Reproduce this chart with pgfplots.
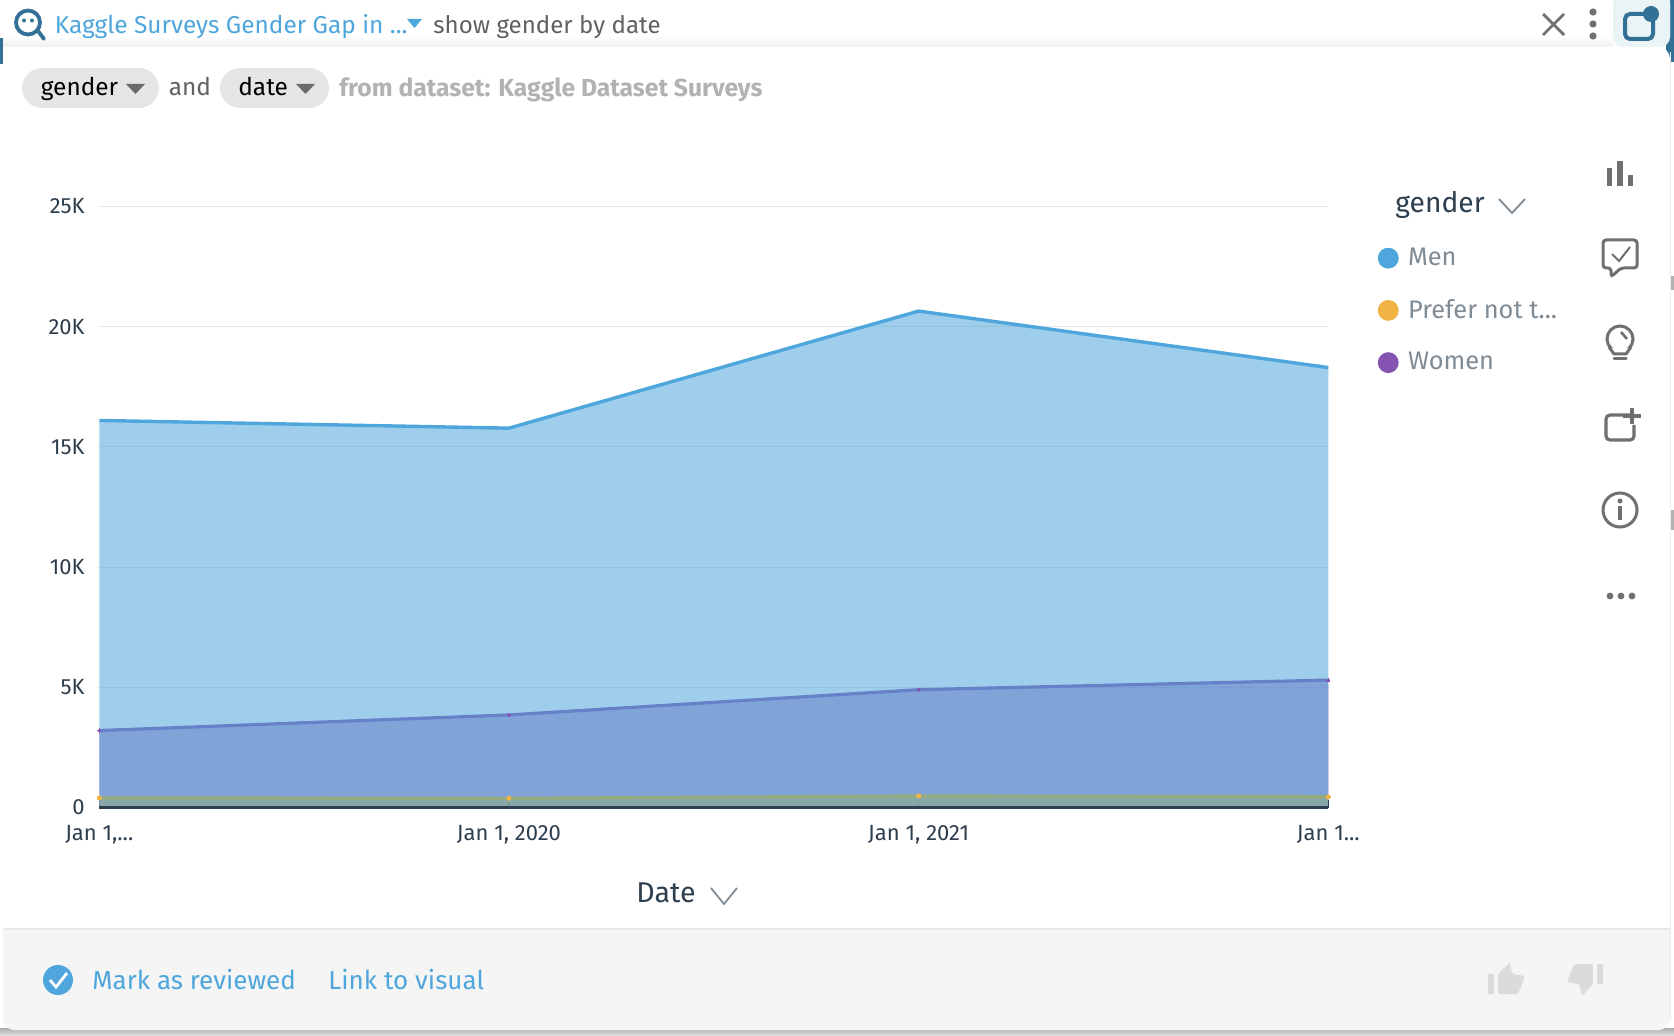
\documentclass[border=0pt]{standalone}
\usepackage{pgfplots}
\pgfplotsset{compat=1.18}
\usepackage{fontspec}
\setmainfont{Fira Sans}
\usetikzlibrary{shadings}
\definecolor{menc}{RGB}{79,166,220}
\definecolor{prefc}{RGB}{240,179,68}
\definecolor{womc}{RGB}{133,84,178}
\definecolor{inktick}{RGB}{45,62,78}
\definecolor{leggray}{RGB}{127,140,150}
\definecolor{icongray}{RGB}{112,112,112}
\definecolor{gridc}{RGB}{227,232,232}
\definecolor{chipc}{RGB}{229,229,229}
\definecolor{deepblue}{RGB}{51,112,150}
\definecolor{footc}{RGB}{245,245,245}
\definecolor{boxblue}{RGB}{234,243,246}
\newcommand{\fs}[1]{\fontsize{#1}{#1}\selectfont}
\newcommand{\tdots}{.\kern0pt.\kern0pt.}
\begin{document}
\begin{tikzpicture}
\useasboundingbox (0,0) rectangle (837pt,-518pt);
\begin{scope}[x=0.5pt,y=-0.5pt]
% page background and panel
\fill[white] (0,0) rectangle (1674,1036);
\fill[top color=black!32,bottom color=black!10] (0,1028) rectangle (1674,1036);
\fill[deepblue] (0,38) rectangle (3,64);
\fill[deepblue] (1666,0) rectangle (1674,62);
\fill[black!30] (1670,276) rectangle (1674,290);
\fill[black!30] (1670,510) rectangle (1674,530);
\fill[white,rounded corners=6pt] (2,-8) rectangle (1670,46);
\fill[top color=white,bottom color=black!6] (3,36) rectangle (1613,47);
\fill[rounded corners=6pt,white] (3,47) rectangle (1670,1030);
\draw[black!8,line width=0.5pt] (1670,52) -- (1670,1020);
\fill[footc,rounded corners=6pt] (3,929) rectangle (1670,1030);
\fill[footc] (3,929) rectangle (1670,960);
\draw[black!9,line width=1pt] (3,929) -- (1670,929);
% header
\fill[rounded corners=5pt,color=boxblue] (1613,-8) rectangle (1670,47);
\draw[deepblue,line width=1.9pt] (28,22.5) circle (12);
\draw[deepblue,line width=1.9pt,line cap=round] (38,31) -- (44,39);
\fill[deepblue] (24,20.5) circle (2) (32,20.5) circle (2);
\node[anchor=base west,inner sep=0,text=menc,font=\fs{12.2}] at (54.4,33.5) {Kaggle Surveys Gender Gap in ...};
\fill[menc] (407,19) -- (422,19) -- (414.5,28) -- cycle;
\node[anchor=base west,inner sep=0,text=black!62,font=\fs{12.05}] at (433,33.5) {show gender by date};
\draw[icongray,line width=1.4pt] (1543,14) -- (1564,35) (1564,14) -- (1543,35);
\fill[icongray] (1593,12) circle (3.6) (1593,24) circle (3.6) (1593,36) circle (3.6);
\draw[deepblue,line width=2pt,rounded corners=2.5pt] (1625,14) rectangle (1653,39);
\fill[boxblue] (1644,0) rectangle (1664,17);
\fill[deepblue] (1651,14) circle (8);
% query chips
\fill[chipc,rounded corners=10pt] (22,68) rectangle (159,108);
\node[anchor=base west,inner sep=0,text=black,font=\fs{12.2}] at (40.5,96) {gender};
\fill[black!58] (126,84) -- (145,84) -- (135.5,94) -- cycle;
\node[anchor=base west,inner sep=0,text=black!62,font=\fs{12.2}] at (168.5,95.5) {and};
\fill[chipc,rounded corners=10pt] (220,68) rectangle (329,108);
\node[anchor=base west,inner sep=0,text=black,font=\fs{12.2}] at (238,96) {date};
\fill[black!58] (296,84) -- (315,84) -- (305.5,94) -- cycle;
\node[anchor=base west,inner sep=0,text=black!30,font=\fs{12.35}\bfseries] at (339,97) {from dataset: Kaggle Dataset Surveys};
% axis title and its chevron
\node[anchor=base,inner sep=0,text=inktick,font=\fs{14.3}] at (666,902) {Date};
\draw[leggray,line width=0.9pt] (711,888) -- (724,904) -- (737,888);
% legend title
\node[anchor=base west,inner sep=0,text=inktick,font=\fs{14.1}] at (1395,213) {gender};
\draw[leggray,line width=0.9pt] (1499,199) -- (1512,213) -- (1525,199);
% right icon column
\fill[icongray] (1607,168) rectangle (1612,186);
\fill[icongray] (1617,161) rectangle (1623,186);
\fill[icongray] (1628,175) rectangle (1633,186);
\draw[icongray,line width=1.5pt,rounded corners=1.5pt] (1603,240) -- (1637,240) -- (1637,268) -- (1621,268) -- (1611,277) -- (1611,268) -- (1603,268) -- cycle;
\draw[icongray,line width=1pt] (1612,254) -- (1619,261) -- (1630,247);
\draw[icongray,line width=1.5pt] (1620,339) circle (13);
\fill[white] (1611,348) rectangle (1629,362);
\draw[icongray,line width=1.5pt] (1609,347) -- (1614,354) -- (1626,354) -- (1631,347);
\draw[icongray,line width=1.5pt,line cap=round] (1614,359) -- (1626,359);
\draw[icongray,line width=1.3pt] (1621,332) -- (1627,339);
\draw[icongray,line width=1.6pt,rounded corners=2pt] (1630,415) -- (1606,415) -- (1606,440) -- (1634,440) -- (1634,425);
\draw[icongray,line width=1.6pt] (1632,408) -- (1632,424) (1623,416) -- (1641,416);
\draw[icongray,line width=1.5pt] (1620,510) circle (17);
\fill[icongray] (1620,501) circle (2.5);
\fill[icongray] (1618,506) rectangle (1622,520);
\fill[icongray] (1610,596) circle (3.4) (1621,596) circle (3.4) (1632,596) circle (3.4);
% footer
\fill[menc] (58,980) circle (15);
\draw[white,line width=1.4pt] (50,980) -- (56,987) -- (67,973);
\node[anchor=base west,inner sep=0,text=menc,font=\fs{13}] at (92,989) {Mark as reviewed};
\node[anchor=base west,inner sep=0,text=menc,font=\fs{13}] at (328,989) {Link to visual};
\fill[black!14] (1488,974) rectangle (1494,994);
\fill[black!14,rounded corners=1pt] (1498,994) -- (1498,974) -- (1510,962) -- (1512,974) -- (1525,976) -- (1518,994) -- cycle;
\fill[black!14] (1597,964) rectangle (1603,984);
\fill[black!14,rounded corners=1pt] (1593,964) -- (1593,984) -- (1582,996) -- (1579,984) -- (1567,982) -- (1574,964) -- cycle;
\end{scope}
\begin{axis}[
  at={(49.65pt,-403.75pt)}, anchor=south west,
  scale only axis, width=614.5pt, height=300.5pt,
  xmin=0, xmax=3, ymin=0, ymax=25000,
  xtick={0,1,2,3},
  xticklabels={{Jan 1,\tdots},{Jan 1, 2020},{Jan 1, 2021},{Jan 1\tdots}},
  ytick={0,5000,10000,15000,20000,25000},
  yticklabels={0,5K,10K,15K,20K,25K},
  scaled y ticks=false,
  ymajorgrids, grid style={gridc,line width=0.6pt},
  axis x line*=bottom,
  axis y line*=left,
  x axis line style={draw=none},
  y axis line style={draw=none},
  xtick align=inside, major tick length=4pt,
  x tick style={inktick!60,line width=0.6pt},
  y tick style={draw=none},
  tick label style={text=inktick,font=\fs{11}},
  xticklabel style={yshift=-5.5pt},
  yticklabel style={xshift=-3.8pt},
  clip=false,
  legend style={at={(1.04,0.932)},anchor=north west,draw=none,fill=none,inner sep=0pt,
    row sep=15.4pt,font=\fs{12.7},text=leggray,
    /tikz/every node/.append style={inner sep=0pt}},
  legend cell align=left,
  after end axis/.code={
    \draw[inktick,line width=1.1pt] (rel axis cs:0,0) -- (rel axis cs:1,0);
    \draw[inktick,line width=0.8pt] (rel axis cs:1,0) -- ++(0,4pt);
  },
]
\addlegendimage{legend image code/.code={\fill[menc] (0.2cm,0) circle (5pt); \path (0.2cm,0) ++(9.7pt,0);}}
\addlegendentry{Men}
\addlegendimage{legend image code/.code={\fill[prefc] (0.2cm,0) circle (5pt); \path (0.2cm,0) ++(9.7pt,0);}}
\addlegendentry{Prefer not t\tdots}
\addlegendimage{legend image code/.code={\fill[womc] (0.2cm,0) circle (5pt); \path (0.2cm,0) ++(9.7pt,0);}}
\addlegendentry{Women}
% Women area and line
\addplot[forget plot,draw=none,fill=womc,fill opacity=0.55] coordinates {(0,3200)(1,3850)(2,4900)(3,5300)} \closedcycle;
\addplot[forget plot,draw=womc,line width=1.6pt] coordinates {(0,3200)(1,3850)(2,4900)(3,5300)};
% Men area and line
\addplot[forget plot,draw=none,fill=menc,fill opacity=0.55] coordinates {(0,16100)(1,15780)(2,20650)(3,18300)} \closedcycle;
\addplot[forget plot,draw=menc,line width=1.7pt] coordinates {(0,16100)(1,15780)(2,20650)(3,18300)};
% Prefer not to say
\addplot[forget plot,draw=none,fill={rgb,255:red,146;green,171;blue,128},fill opacity=0.55] coordinates {(0,400)(1,380)(2,480)(3,450)} \closedcycle;
\addplot[forget plot,draw={rgb,255:red,149;green,171;blue,126},line width=1.6pt] coordinates {(0,400)(1,380)(2,480)(3,450)};
\addplot[forget plot,womc,only marks,mark=*,mark size=0.8pt,mark options={draw=womc,fill=womc,line width=0pt}] coordinates {(0,3200)(1,3850)(2,4900)(3,5300)};
\addplot[forget plot,prefc,only marks,mark=*,mark size=1pt,mark options={draw=prefc,fill=prefc,line width=0pt}] coordinates {(0,400)(1,380)(2,480)(3,450)};
\end{axis}
\end{tikzpicture}
\end{document}
